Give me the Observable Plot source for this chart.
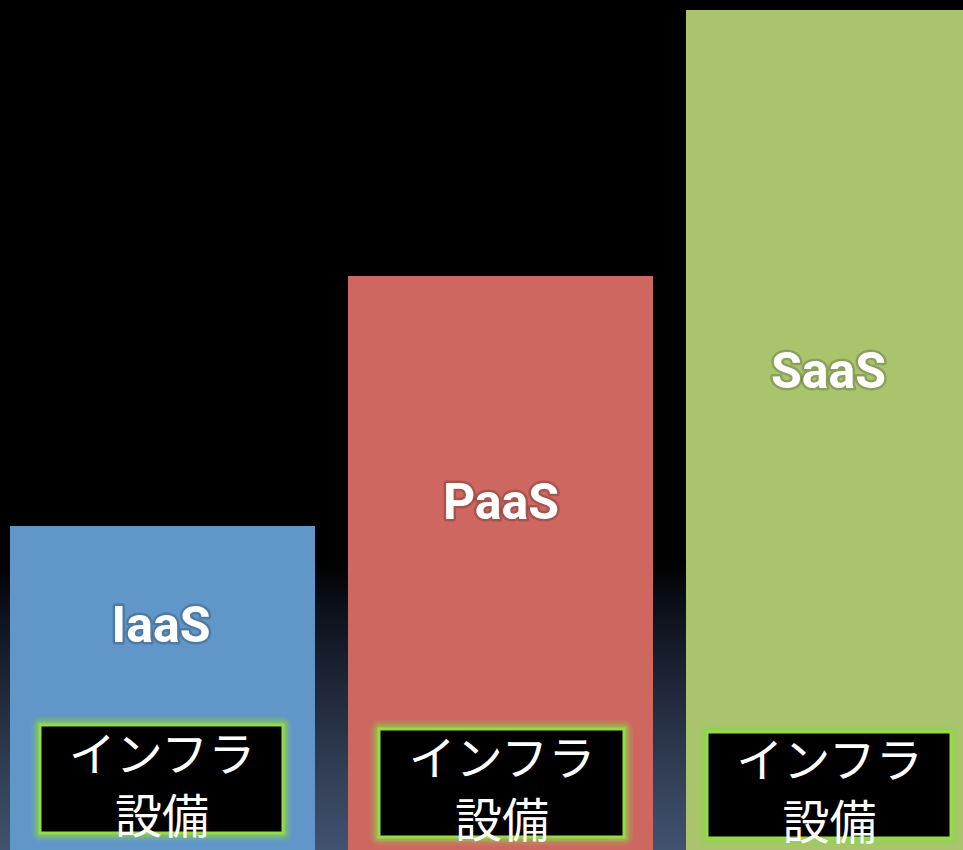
<!DOCTYPE html>
<html>
<head>
<meta charset="utf-8">
<script src="https://cdn.jsdelivr.net/npm/d3@7"></script>
<script src="https://cdn.jsdelivr.net/npm/@observablehq/plot@0.6"></script>
<style>
  html, body { margin: 0; padding: 0; background: #000; overflow: hidden; }
</style>
</head>
<body>
<div id="chart"></div>
<script>
// Data
const categories = ["IaaS", "PaaS", "SaaS"];
const values = [324, 574, 840];
const boxLabels = ["インフラ\n設備", "インフラ\n設備", "インフラ\n設備"];

// Styles / layout (not data)
const barColors = ["#6096c8", "#cd6760", "#aac46e"];
const glowColor = "#8fd44b";
const glowLayers = [
  { w: 18, o: 0.12 },
  { w: 14, o: 0.16 },
  { w: 10, o: 0.24 },
  { w: 7, o: 0.35 }
];
const boxLayout = {
  IaaS: { top: 125, bottom: 17, insetLeft: 30, insetRight: 32 },
  PaaS: { top: 121, bottom: 13, insetLeft: 31, insetRight: 29 },
  SaaS: { top: 118, bottom: 12, insetLeft: 21, insetRight: 40 }
};

const data = categories.map((name, i) => ({ name, value: values[i], box: boxLabels[i] }));

const marks = [
  Plot.barY(data, { x: "name", y: "value", fill: "name" })
];

for (const d of data) {
  const L = boxLayout[d.name];
  const dx = (L.insetLeft - L.insetRight) / 2;
  for (const g of glowLayers) {
    marks.push(Plot.barY([d], {
      x: "name", y1: () => L.bottom, y2: () => L.top,
      insetLeft: L.insetLeft, insetRight: L.insetRight,
      fill: "none", stroke: glowColor, strokeWidth: g.w, strokeOpacity: g.o,
      strokeLinejoin: "round"
    }));
  }
  marks.push(
    Plot.barY([d], {
      x: "name", y1: () => L.bottom, y2: () => L.top,
      insetLeft: L.insetLeft, insetRight: L.insetRight,
      fill: "black", stroke: "#93dc48", strokeWidth: 3
    }),
    Plot.text([d], {
      x: "name", y: () => (L.top + L.bottom) / 2,
      text: "box", dx, dy: 3,
      fill: "white", fontSize: 47, lineHeight: 1.32,
      fontFamily: "'Noto Sans CJK JP', sans-serif",
      textAnchor: "middle", lineAnchor: "middle"
    }),
    Plot.text([d], {
      x: "name", y: (r) => (r.value + L.top) / 2,
      text: "name", dx: dx - 1,
      fill: "white", fontSize: 50, fontWeight: "bold",
      stroke: "#000", strokeOpacity: 0.18, strokeWidth: 5, paintOrder: "stroke",
      strokeLinejoin: "round",
      fontFamily: "Roboto, sans-serif",
      textAnchor: "middle", lineAnchor: "middle"
    })
  );
}

const chart = Plot.plot({
  width: 963,
  height: 850,
  margin: 0,
  x: { type: "band", domain: categories, range: [9, 991], paddingInner: 0.099, paddingOuter: 0, axis: null },
  y: { domain: [0, 850], range: [850, 0], axis: null },
  color: { domain: categories, range: barColors },
  style: {
    background: "linear-gradient(to bottom, #000 0%, #000 66%, #0b0f18 71%, #232c3f 83%, #42536f 100%)",
    overflow: "hidden"
  },
  marks
});

document.getElementById("chart").appendChild(chart);
</script>
</body>
</html>
